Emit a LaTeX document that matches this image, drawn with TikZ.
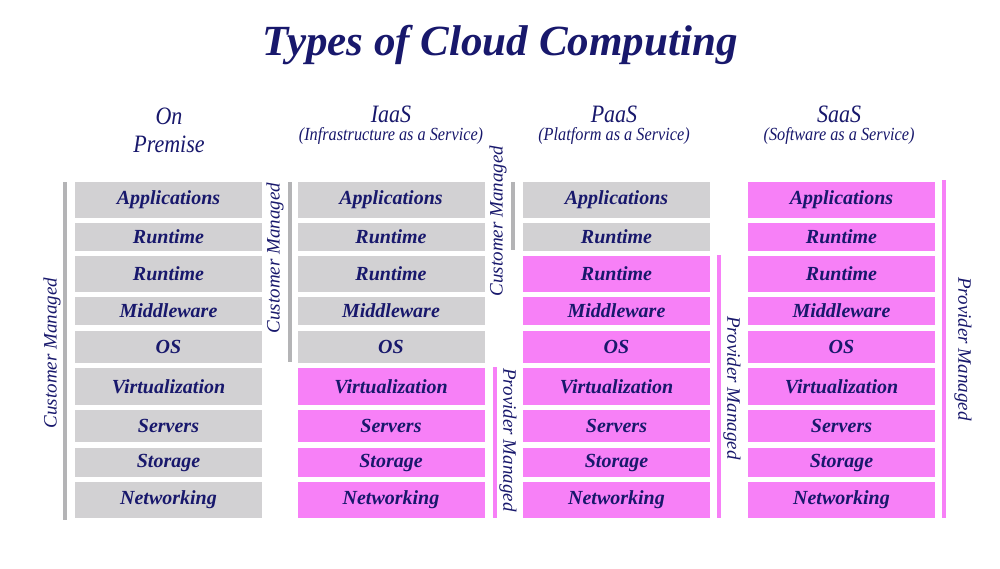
\documentclass[tikz,border=0pt]{standalone}
\usepackage{fontspec}
\setmainfont{Liberation Serif}
\newfontfamily\condfont[FakeStretch=0.88]{Liberation Serif}
\definecolor{navy}{RGB}{24,24,108}
\definecolor{boxgray}{RGB}{210,209,211}
\definecolor{bargray}{RGB}{180,180,182}
\definecolor{boxpink}{RGB}{247,128,247}
\tikzset{
  layer/.style={inner sep=0pt, outer sep=0pt, minimum width=187pt, text=navy,
    font=\fontsize{20}{22}\selectfont\bfseries\itshape},
  graylayer/.style={layer, fill=boxgray},
  pinklayer/.style={layer, fill=boxpink},
  graybar/.style={draw=bargray, line width=4pt},
  pinkbar/.style={draw=boxpink, line width=4pt},
  sidelabel/.style={text=navy, inner sep=0pt, font=\fontsize{19}{21}\selectfont\itshape},
  colhead/.style={text=navy, inner sep=0pt, font=\condfont\fontsize{25}{27}\selectfont\itshape},
  colsub/.style={text=navy, inner sep=0pt, font=\condfont\fontsize{18.5}{20}\selectfont\itshape},
  titletext/.style={text=navy, inner sep=0pt, font=\fontsize{43}{46}\selectfont\bfseries\itshape}
}
\begin{document}
\begin{tikzpicture}[x=1pt,y=-1pt]
\useasboundingbox[fill=white] (0,0) rectangle (1000,568);
\node[titletext] (title) at (500,45) {Types of Cloud Computing};
% headers
\node[colhead] (h1a) at (169,116) {On};
\node[colhead] (h1b) at (169,144) {Premise};
\node[colhead] (h2) at (391,114) {IaaS};
\node[colsub] (s2) at (391,136) {(Infrastructure as a Service)};
\node[colhead] (h3) at (614,114) {PaaS};
\node[colsub] (s3) at (614,136) {(Platform as a Service)};
\node[colhead] (h4) at (839,114) {SaaS};
\node[colsub] (s4) at (839,136) {(Software as a Service)};
% layers: row / top / bottom / text ; column / centre x / number of gray rows
\foreach \r/\t/\b/\txt in {1/182/218/Applications, 2/223/251/Runtime, 3/256/292/Runtime,
    4/297/325/Middleware, 5/331/363/OS, 6/368/405/Virtualization,
    7/410/442/Servers, 8/448/477/Storage, 9/482/518/Networking}{
  \foreach \c/\x/\ng in {1/168.5/9, 2/391/5, 3/616.5/2, 4/841.5/0}{
    \pgfmathsetmacro{\h}{\b-\t}
    \pgfmathsetmacro{\cy}{(\t+\b)/2}
    \ifnum\r>\ng
      \node[pinklayer, minimum height=\h pt] (c\c r\r) at (\x,\cy) {\txt};
    \else
      \node[graylayer, minimum height=\h pt] (c\c r\r) at (\x,\cy) {\txt};
    \fi
  }
}
% responsibility bars
\coordinate (b1t) at (65,182);  \coordinate (b1b) at (65,520);
\coordinate (b2t) at (290,182); \coordinate (b2b) at (290,362);
\coordinate (p2t) at (495,367); \coordinate (p2b) at (495,518);
\coordinate (b3t) at (513,182); \coordinate (b3b) at (513,250);
\coordinate (p3t) at (719,255); \coordinate (p3b) at (719,518);
\coordinate (p4t) at (944,180); \coordinate (p4b) at (944,518);
\draw[graybar] (b1t) -- (b1b);
\draw[graybar] (b2t) -- (b2b);
\draw[pinkbar] (p2t) -- (p2b);
\draw[graybar] (b3t) -- (b3b);
\draw[pinkbar] (p3t) -- (p3b);
\draw[pinkbar] (p4t) -- (p4b);
% side labels
\node[sidelabel, rotate=90] (l1) at (52,353) {Customer Managed};
\node[sidelabel, rotate=90] (l2) at (275,258) {Customer Managed};
\node[sidelabel, rotate=-90] (l3) at (508,440) {Provider Managed};
\node[sidelabel, rotate=90] (l4) at (498,221) {Customer Managed};
\node[sidelabel, rotate=-90] (l5) at (732,388) {Provider Managed};
\node[sidelabel, rotate=-90] (l6) at (963,349) {Provider Managed};
\end{tikzpicture}
\end{document}
